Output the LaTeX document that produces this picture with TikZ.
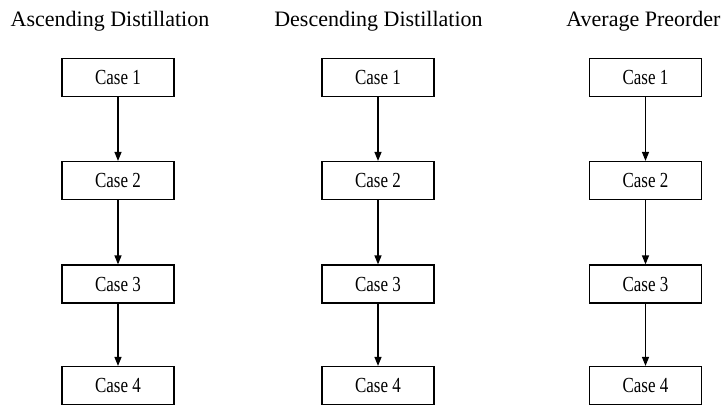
\documentclass[tikz,border=0pt]{standalone}
\usepackage{fontspec}
\setmainfont{Liberation Serif}
\usetikzlibrary{arrows.meta}
\newcommand{\casetxt}[1]{\scalebox{0.79}[1]{#1}}
\begin{document}
\begin{tikzpicture}[x=1pt,y=1pt,
  casebox/.style={draw,line width=1.2pt,minimum width=112pt,minimum height=38pt,inner sep=0pt,font=\fontsize{21.5}{21.5}\selectfont},
  title/.style={anchor=base,font=\fontsize{22}{22}\selectfont,inner sep=0pt},
  conn/.style={line width=1.2pt,-{Triangle[length=9pt,width=7pt]}}]
\useasboundingbox (0,0) rectangle (721,-405);
\foreach \c/\x/\tx/\t in {a/118/110/Ascending Distillation,d/378/378.5/Descending Distillation,v/645.5/643.5/Average Preorder}{
  \node[title] (\c t) at (\tx,-26) {\t};
  \node[casebox] (\c1) at (\x,-77.5) {\casetxt{Case 1}};
  \node[casebox] (\c2) at (\x,-180.5) {\casetxt{Case 2}};
  \node[casebox] (\c3) at (\x,-284) {\casetxt{Case 3}};
  \node[casebox] (\c4) at (\x,-385.5) {\casetxt{Case 4}};
  \draw[conn] (\c1) -- (\c2);
  \draw[conn] (\c2) -- (\c3);
  \draw[conn] (\c3) -- (\c4);
}
\end{tikzpicture}
\end{document}
